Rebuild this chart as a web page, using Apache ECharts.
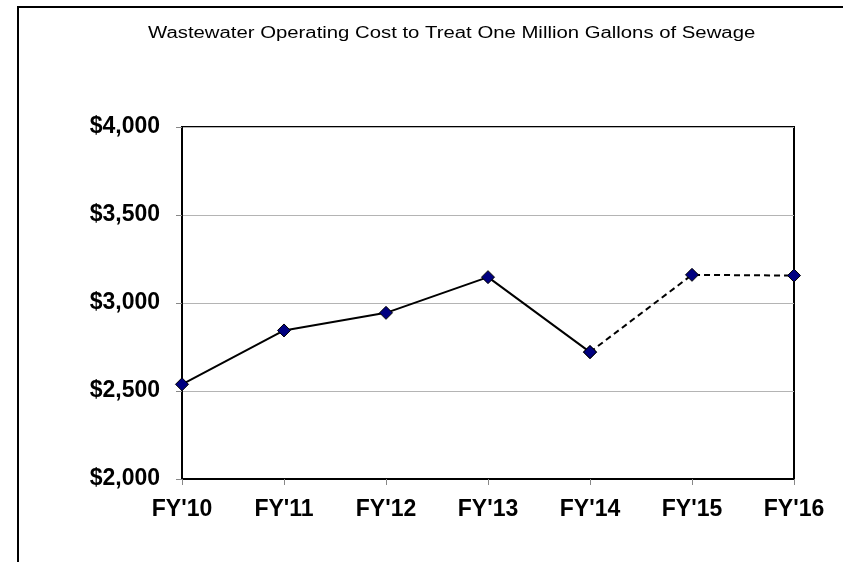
<!DOCTYPE html>
<html>
<head>
<meta charset="utf-8">
<script src="https://cdn.jsdelivr.net/npm/echarts@6/dist/echarts.min.js"></script>
<style>
    html,body{margin:0;padding:0;background:#fff;}
    #main{width:843px;height:562px;}
</style>
</head>
<body>
<div id="main"></div>
<script>
    // data
    var titleText = 'Wastewater Operating Cost to Treat One Million Gallons of Sewage';
    var years = ["FY'10", "FY'11", "FY'12", "FY'13", "FY'14", "FY'15", "FY'16"];
    var actualCost = [2538, 2844, 2944, 3147, 2721, null, null];
    var projectedCost = [null, null, null, null, 2721, 3160, 3156];
    var yMin = 2000, yMax = 4000, yStep = 500;

    var myChart = echarts.init(document.getElementById('main'));

    var markerStyle = {
        color: '#000080',
        borderColor: '#000',
        borderWidth: 1
    };

    var option = {
        animation: false,
        graphic: [
            {
                type: 'rect',
                shape: {x: 18, y: 7, width: 900, height: 700},
                style: {fill: 'none', stroke: '#000', lineWidth: 2},
                silent: true
            },
            {
                // title, stretched sideways like the original
                type: 'text',
                x: 148,
                y: 26,
                scaleX: 1.27,
                style: {
                    text: titleText,
                    font: '16px "Liberation Sans", Arial',
                    fill: '#000'
                },
                silent: true
            }
        ],
        grid: {
            left: 182,
            right: 49,
            top: 127,
            bottom: 83,
            show: true,
            borderColor: '#000',
            borderWidth: 2
        },
        xAxis: {
            type: 'category',
            data: years,
            boundaryGap: false,
            axisLine: {show: true, lineStyle: {color: '#000', width: 2}},
            axisTick: {show: true, length: 6, lineStyle: {color: '#888'}},
            axisLabel: {
                margin: 19,
                color: '#000',
                fontFamily: 'Liberation Sans, Arial',
                fontSize: 23,
                fontWeight: 'bold'
            },
            splitLine: {show: false}
        },
        yAxis: {
            type: 'value',
            min: yMin,
            max: yMax,
            interval: yStep,
            axisLine: {show: true, lineStyle: {color: '#000', width: 2}},
            axisTick: {show: true, length: 6, lineStyle: {color: '#888'}},
            axisLabel: {
                margin: 22,
                color: '#000',
                fontFamily: 'Liberation Sans, Arial',
                fontSize: 23,
                fontWeight: 'bold',
                formatter: function (v) {
                    return '$' + v.toLocaleString('en-US');
                }
            },
            splitLine: {show: true, lineStyle: {color: '#b4b4b4', width: 1}}
        },
        series: [
            {
                name: 'actual',
                type: 'line',
                data: actualCost,
                symbol: 'diamond',
                symbolSize: 13,
                lineStyle: {color: '#000', width: 2},
                itemStyle: markerStyle,
                z: 3
            },
            {
                name: 'projected',
                type: 'line',
                data: projectedCost,
                symbol: 'diamond',
                symbolSize: 13,
                lineStyle: {color: '#000', width: 2, type: [6, 4]},
                itemStyle: markerStyle,
                z: 3
            }
        ]
    };
    myChart.setOption(option, true);
</script>
</body>
</html>
